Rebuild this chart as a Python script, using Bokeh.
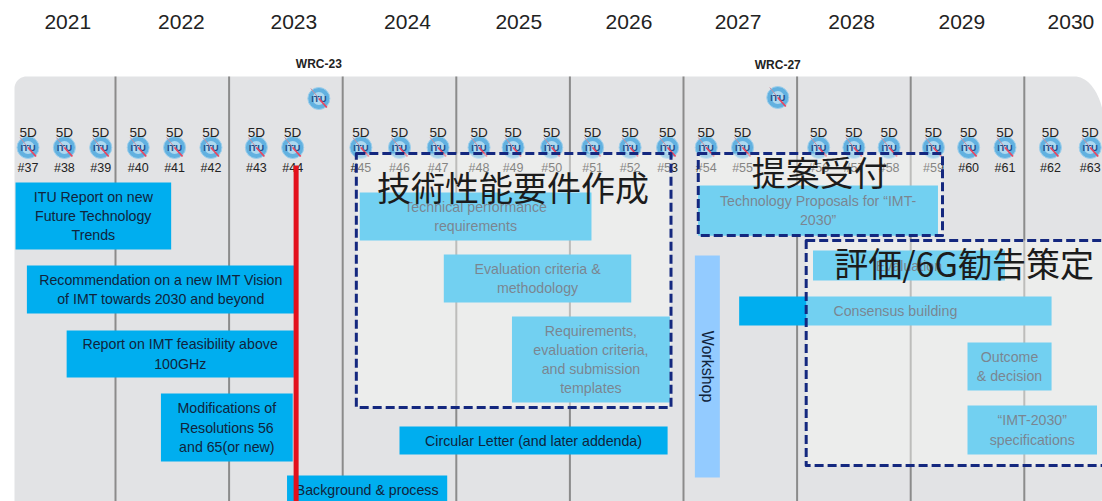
import numpy as np
from bokeh.core.properties import value
from bokeh.embed import file_html
from bokeh.models import Range1d
from bokeh.plotting import figure
from bokeh.resources import INLINE

# Calendar
years = [2021, 2022, 2023, 2024, 2025, 2026, 2027, 2028, 2029, 2030]
year_label_pos = [2021.58, 2022.58, 2023.57, 2024.57, 2025.55, 2026.52, 2027.48, 2028.48, 2029.45, 2030.41]
year_lines = [2022, 2023, 2024, 2025, 2026, 2027, 2028, 2029, 2030]

# Working Party 5D meetings
meeting_ids = list(range(37, 64))
meeting_dates = [2021.23, 2021.55, 2021.87, 2022.20, 2022.52, 2022.84, 2023.24, 2023.56,
                 2024.16, 2024.50, 2024.84, 2025.20, 2025.50, 2025.84, 2026.20, 2026.53, 2026.86,
                 2027.20, 2027.52, 2028.19, 2028.50, 2028.81, 2029.20, 2029.51, 2029.83,
                 2030.23, 2030.58]

# World Radiocommunication Conferences
wrc_names = ["WRC-23", "WRC-27"]
wrc_dates = [2023.79, 2027.83]

# Work items: period in years, vertical lane extent
task_labels = [
    "ITU Report on new\nFuture Technology\nTrends",
    "Recommendation on a new IMT Vision\nof IMT towards 2030 and beyond",
    "Report on IMT feasibility above\n100GHz",
    "Modifications of\nResolutions 56\nand 65(or new)",
    "Background & process",
    "Technical performance\nrequirements",
    "Evaluation criteria &\nmethodology",
    "Requirements,\nevaluation criteria,\nand submission\ntemplates",
    "Circular Letter (and later addenda)",
    "Technology Proposals for \u201cIMT-\n2030\u201d",
    "Evaluation",
    "Consensus building",
    "Outcome\n& decision",
    "\u201cIMT-2030\u201d\nspecifications",
]
task_start = [2021.12, 2021.22, 2021.57, 2022.40, 2023.51, 2024.15, 2024.89, 2025.49, 2024.50,
              2027.13, 2028.14, 2027.49, 2029.50, 2029.50]
task_end = [2022.49, 2023.58, 2023.57, 2023.56, 2024.92, 2026.19, 2026.54, 2026.88, 2026.86,
            2029.24, 2029.83, 2030.24, 2030.24, 2030.64]
task_top = [182, 265, 330, 393, 475, 192, 254, 316, 426, 185, 250, 296, 342, 405]
task_bottom = [249, 313, 377, 461, 503, 240, 302, 402, 454, 235, 280, 325, 390, 454]

# Workshop period
workshop_start, workshop_end = 2027.10, 2027.32
workshop_top, workshop_bottom = 255, 477

# Highlighted phases
phase_labels = ["\u6280\u8853\u6027\u80fd\u8981\u4ef6\u4f5c\u6210", "\u63d0\u6848\u53d7\u4ed8", "\u8a55\u4fa1/6G\u52e7\u544a\u7b56\u5b9a"]
phase_start = [2024.12, 2027.13, 2028.08]
phase_end = [2026.89, 2029.28, 2031.00]
phase_top = [153, 153, 240]
phase_bottom = [407, 235, 465]
phase_label_pos = [2025.50, 2028.20, 2029.47]
phase_label_row = [186, 171, 262]

# Current position on the timeline
today = 2023.58

PX_PER_YEAR = 113.6
X0 = 2021 - 1.4 / PX_PER_YEAR


def px(v):
    return X0 + v / PX_PER_YEAR


SANS = value("Liberation Sans")
CJK = value("Noto Sans CJK JP")

p = figure(width=1102, height=501, output_backend="svg", toolbar_location=None,
           x_range=Range1d(X0, X0 + 1102 / PX_PER_YEAR), y_range=Range1d(501, 0),
           min_border=0, outline_line_color=None, background_fill_color="white")
p.axis.visible = False
p.grid.visible = False

# Panel behind the timeline, rounded at its corners
t = np.linspace(0, np.pi / 2, 24)
tl_x, tl_y = 14 + 12 * (1 - np.sin(t)), 76 + 12 * (1 - np.cos(t))
tr_x, tr_y = 1074 + 30 * np.sin(t), 76 + 52 * (1 - np.cos(t))
br_x, br_y = 1108 - 20 * (1 - np.cos(t)), 470 + 40 * np.sin(t)
panel_x = np.r_[[14], tl_x[::-1], tr_x, br_x]
panel_y = np.r_[[501], tl_y[::-1], tr_y, br_y]
p.patch(px(panel_x), panel_y, fill_color="#e2e3e5", line_color=None)

# Year dividers
p.segment(x0=year_lines, x1=year_lines, y0=76, y1=501, line_color="#8b8b8b", line_width=2)

# Year headings and conference names
p.text(x=year_label_pos, y=[21] * len(years), text=[str(y) for y in years], text_align="center",
       text_baseline="middle", text_font=SANS, text_font_size="21px", text_color="#222222")
p.text(x=wrc_dates, y=[63, 64], text=wrc_names, text_align="center", text_baseline="middle",
       text_font=SANS, text_font_size="12px", text_font_style="bold", text_color="#222222")


def itu_badges(xs, ys):
    xs = np.asarray(xs, dtype=float)
    ys = np.asarray(ys, dtype=float)
    p.scatter(xs, ys, size=22, marker="circle", fill_color="#62b1e0", line_color="#9fd0ec", line_width=1)
    p.scatter(xs, ys, size=13, marker="circle", fill_color="#aed8ef", line_color=None)
    p.text(xs, ys, text=["ITU"] * len(xs), text_align="center", text_baseline="middle", text_font=SANS,
           text_font_size="9.5px", text_font_style="bold", text_color="#1d4f8c")
    p.segment(xs - 8 / PX_PER_YEAR, ys - 10, xs, ys, line_color="#c98fa0", line_width=1)
    p.segment(xs, ys, xs + 8 / PX_PER_YEAR, ys + 9, line_color="#e8455f", line_width=1.8)


itu_badges(wrc_dates, [98, 97])

# Bars of the work items
p.quad(left=task_start, right=task_end, top=task_top, bottom=task_bottom, fill_color="#00aeef", line_color=None)
p.quad(left=[workshop_start], right=[workshop_end], top=[workshop_top], bottom=[workshop_bottom],
       fill_color="#93cbff", line_color=None)

# Meeting markers
n = len(meeting_dates)
itu_badges(meeting_dates, [147] * n)
p.text(meeting_dates, [132] * n, text=["5D"] * n, text_align="center", text_baseline="middle",
       text_font=SANS, text_font_size="13.5px", text_color="#222222")
p.text(meeting_dates, [167] * n, text=[f"#{m}" for m in meeting_ids], text_align="center", text_baseline="middle",
       text_font=SANS, text_font_size="12.5px", text_color="#222222")

# Bar captions, one text per line
line_x, line_y, line_text = [], [], []
for label, a, b, top, bottom in zip(task_labels, task_start, task_end, task_top, task_bottom):
    rows = label.split("\n")
    mid = (top + bottom) / 2
    for i, row in enumerate(rows):
        line_x.append((a + b) / 2)
        line_y.append(mid + (i - (len(rows) - 1) / 2) * 19.3)
        line_text.append(row)
p.text(line_x, line_y, text=line_text, text_align="center", text_baseline="middle", text_font=SANS,
       text_font_size="14.2px", text_color="#10243c")
p.text([(workshop_start + workshop_end) / 2], [(workshop_top + workshop_bottom) / 2], text=["Workshop"],
       angle=-np.pi / 2, text_align="center", text_baseline="middle", text_font=SANS, text_font_size="16px",
       text_color="#10243c")

# Marker for the present date
p.segment([today + 0.01], [165], [today + 0.01], [501], line_color="#e3101c", line_width=5)

# Phases wash out what lies beneath them and get a dashed outline
p.quad(left=phase_start, right=phase_end, top=phase_top, bottom=phase_bottom, fill_color="#f8f8f4",
       fill_alpha=0.46, line_color="#14287f", line_width=3, line_dash="9 4", line_join="round")
p.text(phase_label_pos, phase_label_row, text=phase_labels, text_align="center", text_baseline="middle",
       text_font=CJK, text_font_size="34px", text_color="#1c1c1c")

open("out.html", "w").write(file_html(p, INLINE))
